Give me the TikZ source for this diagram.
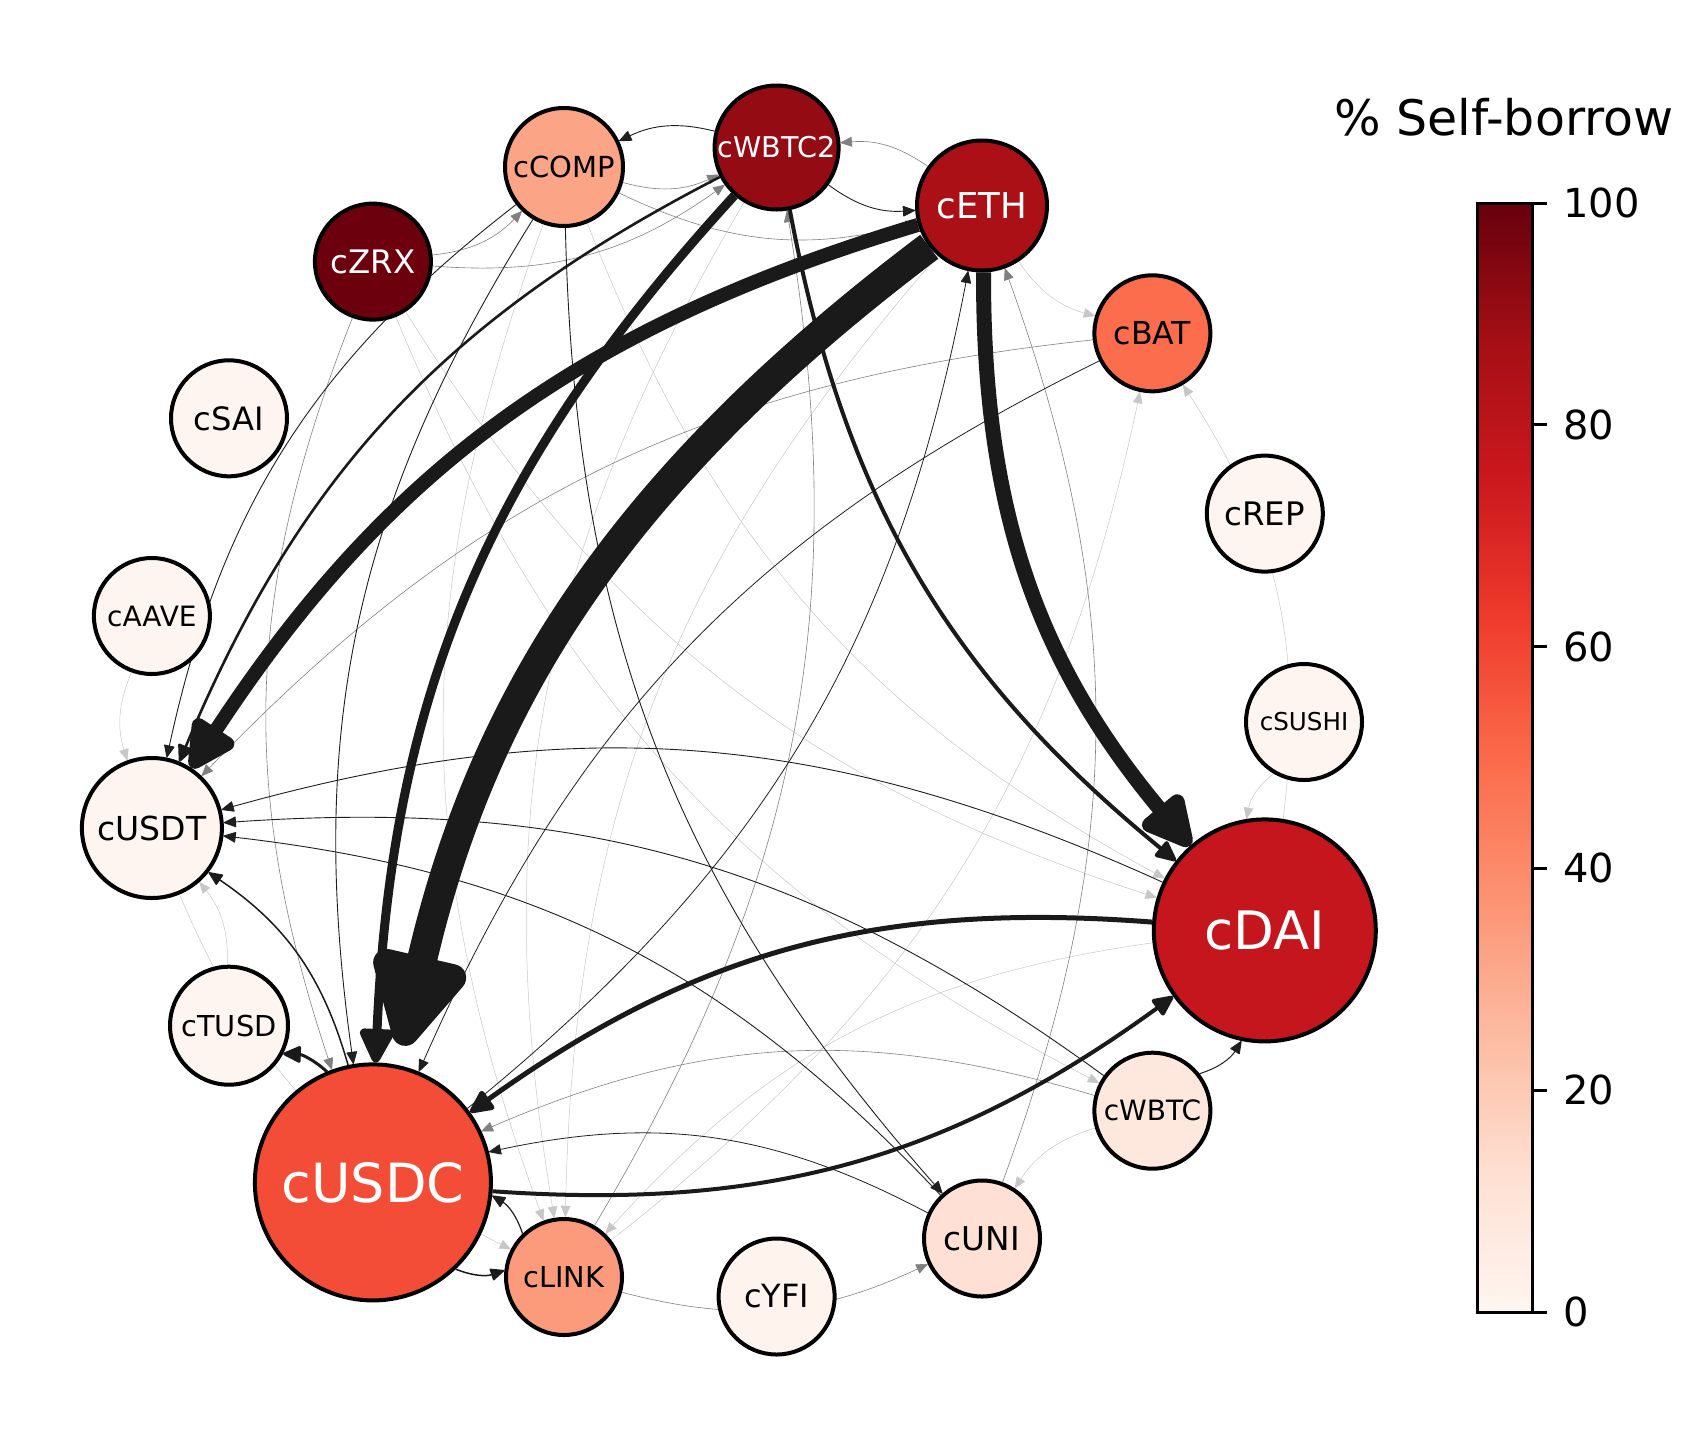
\documentclass[tikz,border=0pt]{standalone}
\usepackage{fontspec}
\setmainfont{DejaVu Sans}
\usetikzlibrary{arrows.meta}
\pgfdeclarelayer{edges}
\pgfsetlayers{edges,main}
\definecolor{r0}{RGB}{255,245,240}
\definecolor{r1}{RGB}{254,224,210}
\definecolor{r2}{RGB}{252,187,161}
\definecolor{r3}{RGB}{252,146,114}
\definecolor{r4}{RGB}{251,106,74}
\definecolor{r5}{RGB}{239,59,44}
\definecolor{r6}{RGB}{203,24,29}
\definecolor{r7}{RGB}{165,15,21}
\definecolor{r8}{RGB}{103,0,13}
\definecolor{cZRXc}{RGB}{108,1,13}
\definecolor{cWBTCtwoc}{RGB}{148,11,19}
\definecolor{cETHc}{RGB}{171,16,22}
\definecolor{cDAIc}{RGB}{196,22,28}
\definecolor{cBATc}{RGB}{251,109,76}
\definecolor{cUSDCc}{RGB}{243,76,55}
\definecolor{cCOMPc}{RGB}{252,164,134}
\definecolor{cLINKc}{RGB}{252,155,124}
\definecolor{cUNIc}{RGB}{254,225,212}
\definecolor{cWBTCc}{RGB}{254,232,222}
\definecolor{cYFIc}{RGB}{255,243,237}
\definecolor{edgeblack}{RGB}{26,26,26}
\begin{document}
\begin{tikzpicture}[x=0.5pt,y=-0.5pt,
  nd/.style={circle, draw=black, line width=2pt, inner sep=0pt, outer sep=1pt},
  fs/.style={font=\fontsize{#1}{#1}\selectfont},
  ar/.style={-{Triangle[length=5pt 3.3, width=4pt 3.2, round]}},
  hv/.style={draw=edgeblack, ar},
  tn/.style={draw=black!88, line width=0.45pt, ar},
  gr/.style={draw=black!50, line width=0.3pt, ar},
  lt/.style={draw=black!22, line width=0.25pt, ar},
  bd/.style={bend right=20}]
\useasboundingbox (0,0) rectangle (1708,1446);

% nodes
\node[nd, minimum size=58pt, fill=r0, fs=12.3] (sushi) at (1304,722) {cSUSHI};
\node[nd, minimum size=58pt, fill=r0, fs=16.2] (rep) at (1264.8,513.6) {cREP};
\node[nd, minimum size=58pt, fill=cBATc, fs=15.8] (bat) at (1152.4,333.3) {cBAT};
\node[nd, minimum size=65pt, fill=cETHc, text=white, fs=17.8] (eth) at (982,205.5) {cETH};
\node[nd, minimum size=62pt, fill=cWBTCtwoc, text=white, fs=14.3] (wbtctwo) at (776.6,147.5) {cWBTC2};
\node[nd, minimum size=59pt, fill=cCOMPc, fs=14.5] (comp) at (564,167) {cCOMP};
\node[nd, minimum size=58pt, fill=cZRXc, text=white, fs=16.2] (zrx) at (372.9,261.6) {cZRX};
\node[nd, minimum size=58pt, fill=r0, fs=16.1] (sai) at (229,418.3) {cSAI};
\node[nd, minimum size=58pt, fill=r0, fs=14] (aave) at (151.9,616) {cAAVE};
\node[nd, minimum size=70pt, fill=r0, fs=16.5] (usdt) at (151.9,828) {cUSDT};
\node[nd, minimum size=59pt, fill=r0, fs=14.4] (tusd) at (229,1025.7) {cTUSD};
\node[nd, minimum size=118pt, fill=cUSDCc, text=white, fs=27] (usdc) at (372.9,1182.4) {cUSDC};
\node[nd, minimum size=58pt, fill=cLINKc, fs=14.4] (link) at (564,1277) {cLINK};
\node[nd, minimum size=58pt, fill=cYFIc, fs=16] (yfi) at (776.6,1296.5) {cYFI};
\node[nd, minimum size=58pt, fill=cUNIc, fs=16.4] (uni) at (982,1238.5) {cUNI};
\node[nd, minimum size=58pt, fill=cWBTCc, fs=14] (wbtc) at (1152.4,1110.7) {cWBTC};
\node[nd, minimum size=111pt, fill=cDAIc, text=white, fs=26.5] (dai) at (1264.8,930.4) {cDAI};

\begin{pgfonlayer}{edges}
% light edges
\draw[lt] (dai) to[bd] (bat);
\draw[lt] (link) to[bd] (bat);
\draw[lt] (eth) to[bd] (bat);
\draw[lt] (wbtc) to[bd] (uni);
\draw[lt] (comp) to[bd] (dai);
\draw[lt] (zrx) to[bd] (dai);
\draw[lt] (dai) to[bd] (link);
\draw[lt] (aave) to[bd] (usdt);
\draw[lt] (tusd) to[bd] (usdt);
\draw[lt] (usdt) to[bd] (link);
\draw[lt] (zrx) to[bd] (wbtc);
\draw[lt] (comp) to[bd] (link);
\draw[lt] (eth) to[bd] (link);
\draw[lt] (wbtctwo) to[bd] (link);
\draw[lt] (sushi) to[bd] (dai);
% grey edges
\draw[gr] (eth) to[bd] (wbtctwo);
\draw[gr] (comp) to[bd] (eth);
\draw[gr] (comp) to[bd] (wbtctwo);
\draw[gr] (zrx) to[bd] (wbtctwo);
\draw[gr] (zrx) to[bd] (comp);
\draw[gr] (zrx) to[bd] (usdc);
\draw[gr] (link) to[bd] (wbtctwo);
\draw[gr] (uni) to[bd] (eth);
\draw[gr] (bat) to[bd] (usdt);
\draw[gr] (wbtc) to[bd] (usdc);
\draw[gr] (link) to[bd] (uni);
% thin dark edges
\draw[tn] (dai) to[bd] (usdt);
\draw[tn] (wbtc) to[bd] (usdt);
\draw[tn] (uni) to[bd] (usdt);
\draw[tn] (wbtctwo) to[bd] (comp);
\draw[tn] (wbtctwo) to[bd] (eth);
\draw[tn] (comp) to[bd] (usdc);
\draw[tn] (comp) to[bd] (uni);
\draw[tn] (comp) to[bd] (usdt);
\draw[tn, line width=0.4pt] (bat) to[bd] (usdc);
\draw[tn, line width=0.4pt] (usdc) to[bd] (eth);
\draw[tn, line width=0.4pt] (uni) to[bd] (usdc);
\draw[tn, line width=0.6pt] (link) to[bd] (usdc);
\draw[tn, line width=0.5pt] (wbtc) to[bd] (dai);
% heavy edges
\draw[hv, line width=0.75pt] (usdc) to[bd] (usdt);
\draw[hv, line width=0.75pt] (usdc) to[bd] (link);
\draw[hv, line width=1.5pt] (usdc) to[bd] (tusd);
\draw[hv, line width=2pt] (usdc) to[bd] (dai);
\draw[hv, line width=2.5pt] (dai) to[bd] (usdc);
\draw[hv, line width=1.3pt] (wbtctwo) to[bd] (usdt);
\draw[hv, line width=2pt] (wbtctwo) to[bd] (dai);
\draw[hv, line width=4.5pt] (wbtctwo) to[bd] (usdc);
\draw[hv, line width=7pt] (eth) to[bd] (usdt);
\draw[hv, line width=7.5pt] (eth) to[bd] (dai);
\draw[hv, line width=15pt, shorten >=10pt] (eth) to[bd] (usdc);
\end{pgfonlayer}

% colorbar
\shade[bottom color=r0, top color=r1] (1477,1312) rectangle (1532,1173.4);
\shade[bottom color=r1, top color=r2] (1477,1173.4) rectangle (1532,1034.8);
\shade[bottom color=r2, top color=r3] (1477,1034.8) rectangle (1532,896.1);
\shade[bottom color=r3, top color=r4] (1477,896.1) rectangle (1532,757.5);
\shade[bottom color=r4, top color=r5] (1477,757.5) rectangle (1532,618.9);
\shade[bottom color=r5, top color=r6] (1477,618.9) rectangle (1532,480.3);
\shade[bottom color=r6, top color=r7] (1477,480.3) rectangle (1532,341.6);
\shade[bottom color=r7, top color=r8] (1477,341.6) rectangle (1532,203);
\draw[line width=1.5pt] (1477,203) rectangle (1532,1312);
\foreach \v/\yy in {0/1312,20/1090.2,40/868.4,60/646.6,80/424.8,100/203}{
  \draw[line width=1.5pt] (1532,\yy) -- (1547,\yy);
  \node[anchor=west, inner sep=0pt, fs=20] (tick\v) at (1563,\yy) {\v};
}
\node[anchor=base, inner sep=0pt, fs=24.5] (cbtitle) at (1504,135) {\% Self-borrow};
\end{tikzpicture}
\end{document}
